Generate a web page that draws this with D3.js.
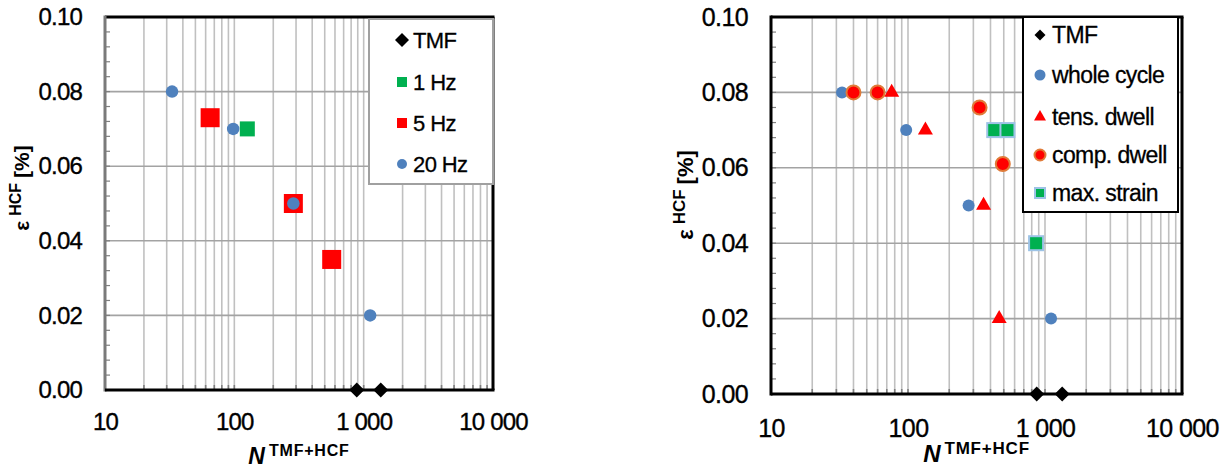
<!DOCTYPE html>
<html>
<head>
<meta charset="utf-8">
<script src="https://cdn.jsdelivr.net/npm/d3@7"></script>
<style>
  body { margin: 0; background: #fff; }
  svg { display: block; }
  text { font-family: "Liberation Sans", Arial, sans-serif; }
</style>
</head>
<body>
<svg id="chart" width="1231" height="468"></svg>
<script>
// axis ticks (shared by both panels)
const xTicks = [10, 100, 1000, 10000];
const xTickLabels = ["10", "100", "1 000", "10 000"];
const yTicks = [0, 0.02, 0.04, 0.06, 0.08, 0.10];
const yTickLabels = ["0.00", "0.02", "0.04", "0.06", "0.08", "0.10"];

// left panel: frequencies
const leftNames = ["TMF", "1 Hz", "5 Hz", "20 Hz"];
const tmfLeftN = [884, 1355];
const tmfLeftEps = [0, 0];
const hz1N = [126];
const hz1Eps = [0.07];
const hz5N = [65, 286, 566];
const hz5Eps = [0.073, 0.05, 0.035];
const hz20N = [33, 98, 286, 1122];
const hz20Eps = [0.08, 0.07, 0.05, 0.02];

// right panel: dwell types
const rightNames = ["TMF", "whole cycle", "tens. dwell", "comp. dwell", "max. strain"];
const tmfRightN = [870, 1335];
const tmfRightEps = [0, 0];
const wholeN = [33, 97, 277, 1107];
const wholeEps = [0.08, 0.07, 0.05, 0.02];
const tensN = [76, 134, 356, 463];
const tensEps = [0.08, 0.07, 0.05, 0.02];
const compN = [40, 60, 333, 492];
const compEps = [0.08, 0.08, 0.076, 0.061];
const maxN = [426, 532, 861];
const maxEps = [0.07, 0.07, 0.04];

const svg = d3.select("#chart");

// marker drawing helper: shape + size (width in px)
function marker(sel, m, w) {
  if (m.shape === "circle") {
    sel.append("circle").attr("r", w / 2);
  } else if (m.shape === "square") {
    sel.append("rect").attr("x", -w / 2).attr("y", -w / 2).attr("width", w).attr("height", w);
  } else if (m.shape === "diamond") {
    const s = w / Math.SQRT2;
    sel.append("rect").attr("x", -s / 2).attr("y", -s / 2).attr("width", s).attr("height", s)
      .attr("transform", "rotate(45)");
  } else if (m.shape === "triangle") {
    sel.append("path").attr("d", d3.symbol(d3.symbolTriangle, Math.sqrt(3) / 4 * w * w)());
  }
  sel.attr("fill", m.fill);
  if (m.stroke) sel.attr("stroke", m.stroke).attr("stroke-width", m.sw);
}

function drawPanel(o) {
  const g = svg.append("g");
  const x = d3.scaleLog().domain([10, 10000]).range([o.left, o.right]);
  const y = d3.scaleLinear().domain([0, 0.1]).range([o.bottom, o.top]);

  // vertical grid (log minor lines)
  g.append("g").selectAll("line")
    .data(x.ticks().filter(d => d > 10 && d < 10000))
    .join("line")
    .attr("x1", d => x(d)).attr("x2", d => x(d))
    .attr("y1", o.top).attr("y2", o.bottom)
    .attr("stroke", "#c0c0c0").attr("stroke-width", 1.6);

  // horizontal grid
  g.append("g").selectAll("line")
    .data(yTicks.filter(d => d > 0 && d < 0.1))
    .join("line")
    .attr("x1", o.left).attr("x2", o.right)
    .attr("y1", d => y(d)).attr("y2", d => y(d))
    .attr("stroke", "#a3a3a3").attr("stroke-width", 1.6);

  // minor ticks on y axis (inside)
  g.append("g").selectAll("line")
    .data(d3.range(1, 25).map(i => i * 0.004))
    .join("line")
    .attr("x1", o.left).attr("x2", o.left + 5)
    .attr("y1", d => y(d)).attr("y2", d => y(d))
    .attr("stroke", "#808080").attr("stroke-width", 1.2);

  // minor ticks on x axis (inside)
  g.append("g").selectAll("line")
    .data(x.ticks().filter(d => d > 10 && d < 10000))
    .join("line")
    .attr("x1", d => x(d)).attr("x2", d => x(d))
    .attr("y1", o.bottom).attr("y2", o.bottom - 5)
    .attr("stroke", "#808080").attr("stroke-width", 1.6);

  // frame
  g.append("line").attr("x1", o.left).attr("x2", o.right + 1.5).attr("y1", o.top).attr("y2", o.top)
    .attr("stroke", "#000").attr("stroke-width", 3);
  g.append("line").attr("x1", o.right).attr("x2", o.right).attr("y1", o.top).attr("y2", o.bottom)
    .attr("stroke", "#000").attr("stroke-width", 3);
  g.append("line").attr("x1", o.left).attr("x2", o.left).attr("y1", o.top - 1.5).attr("y2", o.bottom + 1.5)
    .attr("stroke", o.leftAxisColor).attr("stroke-width", 3);
  g.append("line").attr("x1", o.left).attr("x2", o.right + 1.5).attr("y1", o.bottom).attr("y2", o.bottom)
    .attr("stroke", "#000").attr("stroke-width", 3);

  // axes labels
  const ya = g.append("g").attr("transform", `translate(${o.left},0)`)
    .call(d3.axisLeft(y).tickValues(yTicks).tickFormat((d, i) => yTickLabels[i]).tickSize(0).tickPadding(o.yPad));
  ya.select(".domain").remove();
  ya.selectAll("text").attr("font-size", o.tickFont).attr("letter-spacing", o.tickSpacing)
    .attr("font-family", "Liberation Sans, Arial").attr("fill", "#000")
    .attr("stroke", "#000").attr("stroke-width", 0.35);

  const xa = g.append("g").attr("transform", `translate(0,${o.bottom})`)
    .call(d3.axisBottom(x).tickValues(xTicks).tickFormat((d, i) => xTickLabels[i]).tickSize(0).tickPadding(o.xPad));
  xa.select(".domain").remove();
  xa.selectAll("text").attr("font-size", o.tickFont).attr("letter-spacing", o.tickSpacing)
    .attr("font-family", "Liberation Sans, Arial").attr("fill", "#000")
    .attr("stroke", "#000").attr("stroke-width", 0.35);

  // x title
  const xt = g.append("text").attr("x", (o.left + o.right) / 2).attr("y", o.xTitleY)
    .attr("text-anchor", "middle").attr("font-weight", "bold");
  xt.append("tspan").attr("font-size", o.nFont).attr("font-style", "italic").text("N");
  xt.append("tspan").attr("font-size", o.supFont).attr("letter-spacing", 0.8)
    .attr("dx", 4).attr("dy", -o.supRaise).text("TMF+HCF");

  // y title
  const yt = g.append("text").attr("transform", `translate(${o.yTitleX},${o.yTitleY}) rotate(-90)`)
    .attr("text-anchor", "middle").attr("font-weight", "bold");
  yt.append("tspan").attr("font-size", o.titleFont).text("ε");
  yt.append("tspan").attr("font-size", o.supFont).attr("dx", 5).attr("dy", -o.supRaise).text("HCF");
  yt.append("tspan").attr("font-size", o.titleFont).attr("dx", 5).attr("dy", o.supRaise).text("[%]");

  // data points
  o.series.forEach(s => {
    s.N.forEach((n, i) => {
      const p = g.append("g").attr("transform", `translate(${x(n)},${y(s.eps[i])})`);
      marker(p, s, s.size);
    });
  });

  // legend
  const lb = o.legend;
  g.append("rect").attr("x", lb.x).attr("y", lb.y).attr("width", lb.w).attr("height", lb.h)
    .attr("fill", "#fff").attr("stroke", lb.stroke).attr("stroke-width", 2);
  o.series.forEach((s, i) => {
    const row = g.append("g").attr("transform", `translate(0,${lb.rows[i]})`);
    const mk = row.append("g").attr("transform", `translate(${lb.mx},0)`);
    marker(mk, s, s.lsize);
    row.append("text").attr("x", lb.tx).attr("y", 0).attr("dy", "0.36em")
      .attr("font-size", o.legendFont).attr("letter-spacing", o.legendSpacing)
      .attr("stroke", "#000").attr("stroke-width", 0.3).text(s.name);
  });
}

const blue = "#4f81bd", red = "#ff0000", green = "#00b050";

drawPanel({
  left: 105, right: 493, top: 17, bottom: 390,
  leftAxisColor: "#7a7a7a",
  tickFont: 24, tickSpacing: -0.8, yPad: 23, xPad: 23,
  titleFont: 21, nFont: 23, supFont: 16, supRaise: 8,
  xTitleY: 464, yTitleX: 29, yTitleY: 188,
  legendFont: 22, legendSpacing: -0.6,
  legend: { x: 369, y: 19, w: 124, h: 165, stroke: "#a0a0a0", rows: [40, 82, 123, 164], mx: 402, tx: 413 },
  series: [
    { name: leftNames[0], N: tmfLeftN, eps: tmfLeftEps, shape: "diamond", fill: "#000", size: 15, lsize: 14 },
    { name: leftNames[1], N: hz1N, eps: hz1Eps, shape: "square", fill: green, size: 15, lsize: 10 },
    { name: leftNames[2], N: hz5N, eps: hz5Eps, shape: "square", fill: red, size: 19, lsize: 10 },
    { name: leftNames[3], N: hz20N, eps: hz20Eps, shape: "circle", fill: blue, size: 12.5, lsize: 10 }
  ]
});

drawPanel({
  left: 771, right: 1182, top: 17, bottom: 394,
  leftAxisColor: "#000",
  tickFont: 25, tickSpacing: -0.6, yPad: 23, xPad: 25,
  titleFont: 22, nFont: 24, supFont: 17, supRaise: 8,
  xTitleY: 462, yTitleX: 693, yTitleY: 195,
  legendFont: 23, legendSpacing: -0.6,
  legend: { x: 1023, y: 17, w: 155, h: 195, stroke: "#000", rows: [35, 75, 117, 155, 193], mx: 1040, tx: 1052 },
  series: [
    { name: rightNames[0], N: tmfRightN, eps: tmfRightEps, shape: "diamond", fill: "#000", size: 15, lsize: 11 },
    { name: rightNames[1], N: wholeN, eps: wholeEps, shape: "circle", fill: blue, size: 12, lsize: 11 },
    { name: rightNames[2], N: tensN, eps: tensEps, shape: "triangle", fill: red, size: 15, lsize: 12 },
    { name: rightNames[3], N: compN, eps: compEps, shape: "circle", fill: red, stroke: "#e07b39", sw: 2, size: 14, lsize: 11 },
    { name: rightNames[4], N: maxN, eps: maxEps, shape: "square", fill: green, stroke: "#9dc3e6", sw: 2, size: 14, lsize: 10 }
  ]
});
</script>
</body>
</html>
